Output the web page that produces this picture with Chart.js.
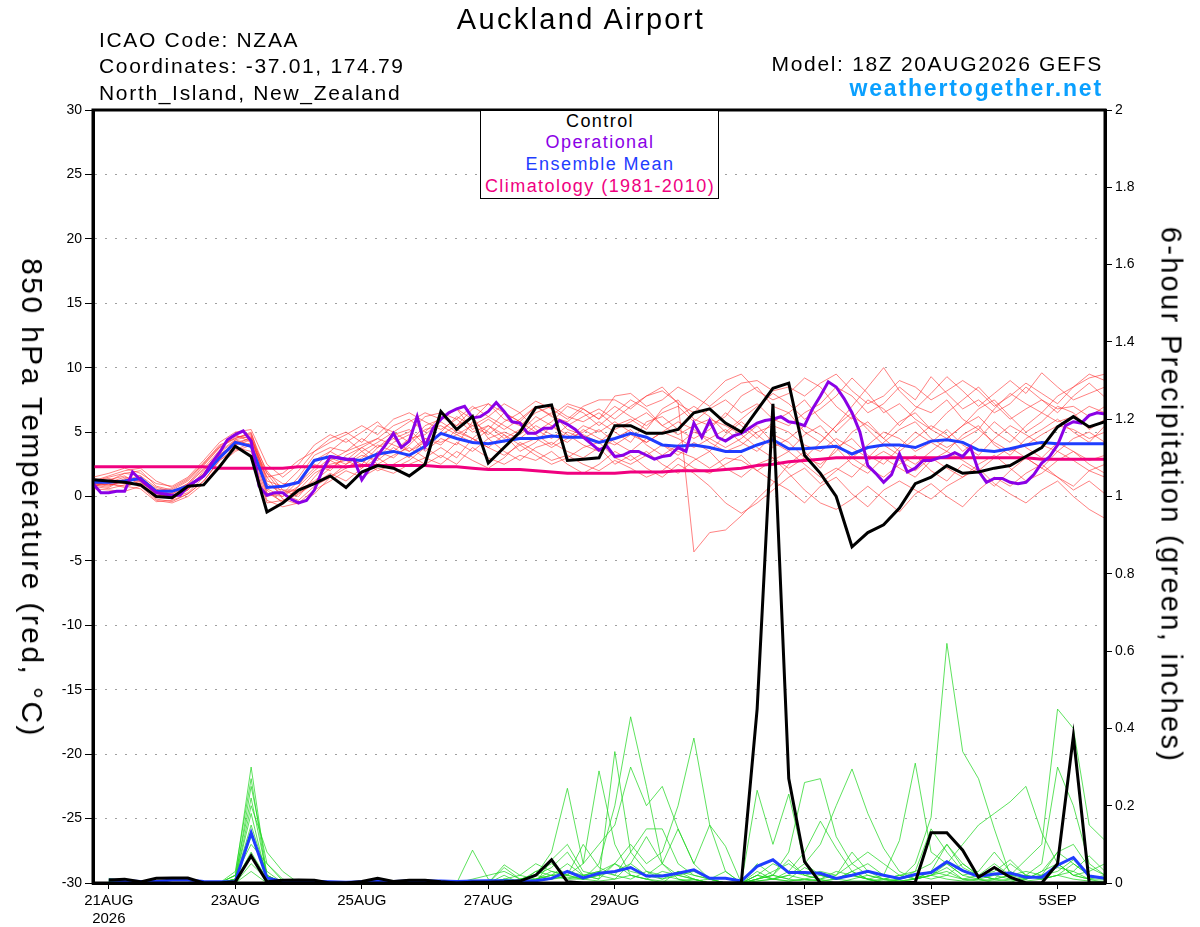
<!DOCTYPE html>
<html>
<head>
<meta charset="utf-8">
<title>Auckland Airport</title>
<script src="https://cdn.jsdelivr.net/npm/chart.js@4.4.1/dist/chart.umd.min.js"></script>
<style>
  html, body { margin: 0; padding: 0; background: #fff; }
  #wrap { position: relative; width: 1200px; height: 927px; font-family: "Liberation Sans", Arial, sans-serif; }
  #wrap canvas { position: absolute; left: 0; top: 0; }
  .txt { position: absolute; white-space: nowrap; line-height: 1; letter-spacing: 0.08em; color: #000; }
  .head { font-size: 21px; }
  #legend { position: absolute; left: 480px; top: 110px; width: 239px; height: 89px; box-sizing: border-box;
            border: 1px solid #000; background: #fff; }
  #legend .txt { font-size: 18px; left: 119px; transform: translateX(-50%); }
  .vtitle { position: absolute; white-space: nowrap; line-height: 1; letter-spacing: 0.08em;
            transform: translate(-50%, -50%) rotate(90deg); }
</style>
</head>
<body>
<div id="wrap">
  <canvas id="chart" width="1200" height="927"></canvas>
  <div class="txt" style="font-size:29px; left:581px; top:5px; transform:translateX(-50%);">Auckland Airport</div>
  <div class="txt head" style="left:99px; top:29px;">ICAO Code: NZAA</div>
  <div class="txt head" style="left:99px; top:55px;">Coordinates: -37.01, 174.79</div>
  <div class="txt head" style="left:99px; top:82px;">North_Island, New_Zealand</div>
  <div class="txt head" style="right:97px; top:53px;">Model: 18Z 20AUG2026 GEFS</div>
  <div class="txt" style="right:97px; top:77px; font-size:23px; font-weight:bold; color:#0aa0ff;">weathertogether.net</div>
  <div id="legend">
    <div class="txt" style="top:1px;">Control</div>
    <div class="txt" style="top:22px; color:#8a00e6;">Operational</div>
    <div class="txt" style="top:44px; color:#1f3dff;">Ensemble Mean</div>
    <div class="txt" style="top:66px; color:#f0007f;">Climatology (1981-2010)</div>
  </div>
  <div class="vtitle" style="left:32px; top:498px; font-size:30px;">850 hPa Temperature (red, °C)</div>
  <div class="vtitle" style="left:1171px; top:495px; font-size:29px;">6-hour Precipitation (green, inches)</div>
</div>
<script>
// time grid: hours after 18Z 20AUG2026, 6-hourly (operational 3-hourly)
const STEP = 6;
const OP_STEP = 3;
const tickHours = [6, 54, 102, 150, 198, 270, 318, 366];
const tickLabels = [['21AUG', '2026'], '23AUG', '25AUG', '27AUG', '29AUG', '1SEP', '3SEP', '5SEP'];

// 850 hPa temperature, deg C
const controlTemp = [
  1.3, 1.2, 1.1, 0.9, 0.0, -0.1, 0.8, 0.9, 2.3, 3.9,
  3.1, -1.2, -0.5, 0.5, 1.0, 1.6, 0.7, 1.9, 2.4, 2.2,
  1.6, 2.5, 6.6, 5.2, 6.2, 2.6, 3.8, 5.0, 6.9, 7.1,
  2.8, 2.9, 3.0, 5.5, 5.5, 4.9, 4.9, 5.2, 6.5, 6.8,
  5.7, 5.0, 6.7, 8.4, 8.8, 3.2, 1.8, 0.0, -3.9, -2.8,
  -2.2, -0.9, 1.0, 1.5, 2.4, 1.8, 1.9, 2.2, 2.4, 3.1,
  3.8, 5.4, 6.2, 5.4, 5.8
];
const operationalTemp = [
  1.0, 0.3, 0.3, 0.4, 0.4, 1.9, 1.3, 0.8, 0.3, 0.2,
  0.1, 0.1, 0.8, 1.2, 1.6, 2.6, 3.4, 4.4, 4.8, 5.1,
  4.3, 0.8, 0.1, 0.3, 0.3, -0.2, -0.5, -0.3, 0.5, 2.0,
  3.1, 3.0, 2.9, 2.9, 1.3, 2.2, 3.2, 4.0, 4.9, 3.8,
  4.3, 6.2, 3.9, 5.3, 6.0, 6.5, 6.8, 7.0, 6.1, 6.2,
  6.6, 7.3, 6.6, 5.8, 5.7, 4.9, 4.9, 5.3, 5.3, 5.9,
  5.6, 5.2, 4.6, 4.1, 3.6, 3.9, 3.1, 3.2, 3.5, 3.5,
  3.2, 2.9, 3.1, 3.2, 3.8, 3.5, 5.7, 4.6, 5.9, 4.6,
  4.3, 4.7, 4.9, 5.3, 5.7, 5.9, 6.0, 6.2, 5.8, 5.7,
  5.5, 6.8, 7.8, 8.9, 8.5, 7.6, 6.5, 5.0, 2.4, 1.8,
  1.1, 1.7, 3.3, 1.9, 2.2, 2.8, 2.8, 3.0, 3.1, 3.4,
  3.1, 3.8, 2.0, 1.1, 1.4, 1.4, 1.1, 1.0, 1.1, 1.7,
  2.6, 3.1, 4.0, 5.5, 5.8, 5.7, 6.3, 6.5, 6.4
];
const meanTemp = [
  1.1, 1.1, 1.2, 1.4, 0.4, 0.4, 0.8, 1.6, 3.0, 4.2,
  3.9, 0.7, 0.8, 1.1, 2.8, 3.1, 2.9, 2.8, 3.3, 3.5,
  3.2, 3.9, 4.9, 4.5, 4.2, 4.1, 4.3, 4.5, 4.5, 4.7,
  4.6, 4.6, 4.2, 4.5, 4.9, 4.6, 4.0, 3.9, 4.0, 3.8,
  3.5, 3.5, 4.0, 4.4, 3.7, 3.7, 3.8, 3.9, 3.3, 3.8,
  4.0, 4.0, 3.8, 4.3, 4.4, 4.2, 3.6, 3.5, 3.7, 4.0,
  4.2, 4.1, 4.1, 4.1, 4.1
];
const climTemp = [
  2.3, 2.3, 2.3, 2.3, 2.3, 2.3, 2.3, 2.3, 2.2, 2.2,
  2.2, 2.2, 2.2, 2.3, 2.3, 2.3, 2.3, 2.4, 2.4, 2.4,
  2.4, 2.4, 2.3, 2.3, 2.2, 2.1, 2.1, 2.1, 2.0, 1.9,
  1.8, 1.8, 1.8, 1.8, 1.9, 1.9, 1.9, 2.0, 2.0, 2.0,
  2.1, 2.2, 2.4, 2.5, 2.7, 2.8, 2.9, 3.0, 3.0, 3.0,
  3.0, 3.0, 3.0, 3.0, 3.0, 3.0, 3.0, 3.0, 3.0, 3.0,
  2.9, 2.9, 2.9, 2.9, 2.9
];

// ensemble members, 850 hPa temperature
const memberTemp = [
  [1.2,1.5,1.8,2.0,0.8,0.5,1.2,2.5,3.8,4.6,4.8, 1.0,0.2,1.5,3.2,3.8,3.5,4.0,4.5,5.5,6.0,5.0,
   6.2,5.5,6.8,7.2,6.0,5.5,6.5,7.0,6.2,5.8,6.5, 5.5,6.0,5.2,6.8,7.5,6.0,5.5,6.2,7.8,8.5,7.0,
   6.5,5.0,4.2,5.5,7.0,8.5,10.0,8.2,7.0,6.5,7.5, 6.0,5.2,6.8,8.0,7.2,6.5,7.8,8.5,9.2,9.5],
  [0.8,0.6,0.9,1.0,-0.2,-0.4,0.2,1.2,2.8,3.8,3.5, -0.3,-0.8,-0.5,0.5,1.2,2.0,1.5,2.2,1.8,2.5,3.0,
   2.5,3.5,2.8,2.2,3.0,4.2,3.5,2.8,3.2,2.5,2.0, 2.8,2.2,1.5,2.0,3.0,2.2,1.8,2.5,3.2,2.0,1.2,
   0.5,-0.5,0.8,1.5,0.2,-0.8,0.5,1.2,0.5,-0.2,0.8, 1.5,2.2,1.0,0.2,-0.5,0.5,1.2,0.0,-1.0,-1.7],
  [1.0,1.2,1.0,1.5,0.5,0.2,0.8,1.8,3.2,4.2,4.5, 2.0,0.5,0.0,1.5,2.8,3.5,4.5,3.8,4.8,5.2,4.0,
   5.0,6.2,5.5,4.8,5.8,6.5,5.2,4.5,5.5,6.2,6.8, 6.0,7.0,7.8,8.2,7.3,-4.3,-2.8,-2.6,-1.5,-0.2,1.0,
   2.5,3.5,2.2,3.8,4.5,3.2,2.5,3.8,5.0,4.2,3.5, 4.8,5.5,4.0,3.2,4.5,5.2,6.0,5.0,4.2,5.5],
  [1.5,1.8,2.2,1.8,1.0,0.8,1.5,2.8,4.2,5.0,5.2, 2.5,1.5,2.5,4.0,4.8,4.2,5.0,5.8,4.5,5.0,6.2,
   6.5,6.0,7.0,6.2,7.2,6.5,7.4,6.8,6.0,7.0,7.5, 7.5,6.8,7.8,8.5,7.2,6.5,7.8,9.0,9.5,8.2,7.5,
   8.0,9.2,8.5,7.0,6.0,7.5,6.8,5.5,6.8,8.0,9.3, 8.2,7.0,8.0,9.0,8.0,9.6,8.5,7.5,8.0,8.5],
  [1.0,0.8,1.3,1.6,0.3,-0.2,0.5,2.0,3.5,4.4,4.0, 0.5,-0.5,0.8,2.0,3.0,2.5,3.2,2.8,3.8,3.0,4.5,
   4.0,5.2,4.5,3.8,4.8,3.5,4.2,5.5,4.8,4.0,3.5, 4.5,5.2,4.0,3.2,4.0,5.0,4.5,3.8,4.5,5.5,4.2,
   3.5,4.8,5.5,4.2,3.0,4.0,5.0,4.5,3.5,4.2,5.2, 4.0,3.2,4.5,5.5,4.8,4.0,3.5,4.5,5.0,4.2],
  [0.6,0.5,0.4,0.8,-0.3,-0.5,0.0,1.0,2.5,3.5,4.0, 1.5,-0.2,-0.6,0.2,1.5,2.2,2.8,2.0,2.5,3.2,2.5,
   3.2,2.5,3.8,3.0,2.5,3.2,2.8,3.5,2.5,1.8,2.5, 3.5,2.8,3.5,2.5,1.8,2.8,3.5,2.2,1.5,2.5,3.0,
   1.8,0.5,-0.5,-1.0,-0.2,0.8,-0.2,-1.2,0.2,1.0,0.0, -0.8,0.5,1.5,0.8,1.8,2.5,1.5,0.8,2.0,1.5],
  [1.3,1.0,0.7,1.2,0.0,0.3,1.0,2.2,3.6,4.8,4.2, 0.2,0.0,1.2,2.5,2.0,3.2,3.8,3.0,4.2,4.8,3.5,
   4.5,4.0,5.8,5.0,4.2,5.0,6.2,5.5,4.5,5.0,5.8, 5.0,4.2,5.8,6.2,5.2,4.5,5.2,6.5,5.5,4.5,5.8,
   6.5,7.5,6.0,5.0,6.2,5.5,4.5,5.8,6.5,5.2,4.5, 5.5,6.8,7.5,6.2,5.0,5.8,7.0,6.5,5.2,6.0],
  [0.9,1.1,1.5,1.2,0.2,0.0,0.7,1.5,3.0,4.0,4.6, 0.8,0.5,0.5,1.8,2.5,2.8,2.2,3.5,3.0,4.0,5.2,
   5.5,4.8,4.2,5.2,6.5,5.8,5.0,5.8,7.0,6.5,5.5, 6.5,7.5,6.8,5.5,6.2,7.0,6.2,5.0,6.0,7.0,8.0,
   7.2,6.0,6.8,7.8,9.2,8.0,6.5,7.2,6.0,5.2,6.5, 7.5,8.5,7.2,6.0,6.8,7.5,6.5,7.8,8.8,7.7],
  [1.1,0.9,1.1,1.4,0.6,-0.1,0.3,1.5,3.2,3.8,3.2, -0.5,-0.3,0.3,1.0,1.8,1.2,2.2,3.0,2.2,2.8,3.8,
   3.0,4.2,3.5,4.5,3.5,2.8,3.8,4.2,3.5,3.0,3.8, 2.5,3.2,2.2,1.5,2.5,1.8,0.8,-0.5,-1.3,-0.5,0.5,
   1.5,2.2,1.0,2.0,3.0,2.2,1.5,2.5,3.2,2.0,1.2, 2.5,1.8,0.8,2.0,3.0,2.2,1.5,0.5,1.2,0.2],
  [1.2,1.4,1.0,1.0,0.5,0.6,1.3,2.6,4.0,4.5,4.9, 1.8,1.0,1.0,2.2,3.5,4.5,3.5,4.2,5.0,4.2,5.5,
   6.0,6.8,5.2,6.0,5.2,6.0,7.0,6.2,5.8,6.8,6.0, 7.0,6.2,5.5,6.5,7.0,5.8,6.8,7.5,6.5,7.2,6.0,
   5.5,6.5,7.2,8.5,7.8,6.5,7.2,8.5,7.5,9.3,8.0, 6.8,7.5,6.5,7.2,8.5,7.5,6.8,7.0,6.2,7.0],
  [0.7,1.3,1.6,0.9,-0.1,0.1,0.5,1.8,3.4,4.3,3.8, 0.0,0.3,0.5,1.2,2.2,3.0,2.5,3.8,4.5,3.5,4.2,
   4.8,5.5,6.2,4.5,5.0,4.5,5.5,4.8,4.2,5.2,4.5, 4.0,4.8,4.2,5.0,4.5,3.8,4.5,5.2,4.2,3.5,4.8,
   4.2,3.0,2.5,3.5,5.0,5.8,4.5,3.5,4.5,5.5,4.8, 3.5,4.5,5.8,4.8,3.8,3.0,4.2,3.5,2.8,3.2],
  [1.4,1.2,1.8,1.6,0.7,0.4,1.0,2.4,3.8,4.5,5.0, 1.2,0.8,2.0,3.5,4.2,4.8,5.5,4.8,6.0,6.5,5.8,
   5.2,6.0,5.0,5.5,4.5,5.2,4.8,4.0,5.0,4.5,5.2, 4.2,3.5,4.5,4.0,3.2,4.2,3.5,4.8,5.8,4.8,3.8,
   4.5,5.5,4.8,3.8,2.5,1.8,3.0,2.2,1.5,2.8,3.5, 2.8,2.0,3.0,3.8,3.0,2.2,3.5,2.8,2.0,2.5],
  [1.0,0.9,1.2,1.3,0.1,0.2,0.9,2.1,3.3,4.0,4.4, 0.3,-0.4,0.2,1.0,2.8,2.2,3.0,4.0,3.5,4.5,4.8,
   5.8,5.0,4.5,5.5,4.8,4.0,4.5,3.8,4.5,5.5,5.0, 5.8,5.0,4.2,5.0,5.8,5.2,4.2,3.5,4.0,5.0,5.5,
   5.0,4.0,3.5,4.5,3.8,3.0,4.2,5.2,5.8,4.5,3.8, 4.5,5.2,4.2,3.5,4.0,4.8,5.5,5.2,4.5,5.0],
  [0.8,1.0,0.8,0.6,-0.4,-0.3,0.2,1.2,2.8,3.6,4.2, 1.8,0.2,-0.3,0.8,1.5,2.5,3.5,2.5,3.2,3.8,3.0,
   3.8,3.0,4.5,3.8,3.2,4.0,3.2,2.5,3.0,3.8,4.2, 3.0,2.5,3.2,4.0,3.5,3.0,2.2,3.0,2.8,2.0,2.8,
   3.5,2.5,1.5,2.2,1.5,2.8,3.5,2.8,2.0,3.0,2.2, 1.5,2.5,3.2,2.2,1.2,1.8,2.8,3.5,2.5,1.8],
  [1.2,1.6,2.0,2.2,1.2,0.7,1.4,2.6,3.9,4.7,4.5, 1.5,1.8,2.8,3.5,4.5,5.0,4.2,5.5,5.0,5.8,6.5,
   6.0,6.8,6.0,7.2,6.5,5.8,7.0,6.3,7.2,6.8,6.0, 7.8,8.0,7.0,7.5,8.5,7.8,7.0,8.0,8.8,9.0,8.2,
   8.5,7.8,8.8,9.5,8.2,7.2,7.8,9.0,8.5,7.5,8.2, 9.0,8.2,7.0,7.8,8.8,8.0,7.2,8.5,9.5,9.0],
  [0.9,0.7,1.4,1.1,0.4,-0.2,0.6,1.6,3.0,4.4,4.7, 0.6,0.0,0.8,2.8,3.5,2.8,3.8,4.5,4.0,3.5,4.5,
   4.2,4.8,5.5,6.2,5.5,4.8,5.8,6.5,5.2,4.8,4.2, 5.2,5.8,6.5,5.5,4.8,5.5,6.0,5.5,4.8,3.8,3.0,
   2.2,3.0,4.2,5.5,6.5,5.2,4.0,3.2,2.5,3.5,4.5, 5.5,6.2,5.0,4.2,5.5,6.5,5.8,6.2,7.0,6.5]
];

// 6-hour precipitation, inches (no value at the analysis time)
const controlPrecip = [
  null, 0.008, 0.01, 0.003, 0.012, 0.013, 0.013, 0, 0, 0.003,
  0.07, 0.003, 0.007, 0.008, 0.007, 0, 0, 0.004, 0.012, 0.004,
  0.007, 0.007, 0.003, 0, 0.002, 0.002, 0.003, 0.005, 0.02, 0.06,
  0.003, 0, 0, 0, 0, 0, 0, 0, 0, 0,
  0, 0, 0.45, 1.24, 0.27, 0.055, 0, 0, 0, 0,
  0, 0, 0.002, 0.13, 0.13, 0.085, 0.015, 0.04, 0.015, 0,
  0, 0.05, 0.38, 0, 0
];
const meanPrecip = [
  null, 0.008, 0.006, 0.004, 0.004, 0.008, 0.008, 0.004, 0.003, 0.004,
  0.13, 0.013, 0.004, 0.004, 0.004, 0.003, 0.002, 0.003, 0.004, 0.004,
  0.005, 0.005, 0.005, 0.004, 0.005, 0.006, 0.006, 0.005, 0.006, 0.012,
  0.03, 0.013, 0.025, 0.03, 0.04, 0.018, 0.018, 0.025, 0.034, 0.012,
  0.012, 0.005, 0.043, 0.06, 0.027, 0.027, 0.025, 0.012, 0.02, 0.03,
  0.02, 0.012, 0.022, 0.027, 0.055, 0.032, 0.017, 0.023, 0.026, 0.015,
  0.015, 0.046, 0.066, 0.018, 0.012
];
const memberPrecip = [
  [null, 0.01,0.005,0,0,0,0,0,0,0.02,0.30, 0.02,0,0,0,0,0,0,0,0,0,
   0.005,0.005,0,0,0,0.01,0,0.03,0.05,0.02, 0.01,0.05,0.2,0.43,0.25,0.05,0.02,0.01,0,0,
   0,0.02,0.01,0.005,0.01,0.02,0.01,0.03,0.01,0, 0.01,0.05,0.17,0.62,0.34,0.27,0.14,0.02,0.02,0.01,
   0.05,0.02,0.01,0],
  [null, 0.008,0.01,0,0.005,0,0,0,0,0.01,0.25, 0.05,0.005,0,0,0,0,0,0,0,0,
   0,0,0,0,0,0.04,0.01,0.02,0.08,0.245, 0.05,0.29,0.1,0.02,0.01,0,0.03,0.01,0,0,
   0,0.01,0.02,0.01,0.005,0.01,0,0.01,0.02,0.01, 0.005,0.01,0.02,0.04,0.01,0.005,0.01,0.02,0.06,0.1,
   0.45,0.40,0.15,0.11],
  [null, 0.005,0.005,0,0,0,0,0,0,0.01,0.20, 0.08,0.03,0,0,0,0,0,0,0,0,
   0,0,0,0,0,0.01,0.02,0.05,0.03,0.02, 0.05,0.1,0.15,0.30,0.2,0.25,0.14,0.05,0.01,0,
   0,0.05,0.02,0.08,0.26,0.27,0.12,0.05,0.02,0.01, 0.02,0.03,0.05,0.1,0.05,0.02,0.01,0.05,0.02,0.01,
   0.02,0.05,0.02,0.01],
  [null, 0.012,0.005,0,0,0,0,0,0,0.01,0.18, 0.01,0,0,0,0,0,0,0,0,0,
   0,0,0,0,0,0,0,0.01,0.02,0.01, 0.02,0.03,0.05,0.1,0.05,0.08,0.2,0.375,0.15,0.095,
   0,0.03,0.01,0.02,0.05,0.1,0.2,0.295,0.18,0.09, 0.03,0.01,0.02,0.05,0.1,0.15,0.18,0.21,0.25,0.13,
   0.05,0.02,0.03,0.05],
  [null, 0,0,0,0,0,0,0,0,0.01,0.15, 0.02,0,0,0,0,0,0,0,0,0,
   0,0,0,0.085,0.01,0,0,0,0.06,0.1, 0.03,0.02,0.01,0.05,0.12,0.05,0.01,0,0,0,
   0,0.24,0.1,0.23,0.05,0.02,0.01,0.03,0.05,0.02, 0.11,0.31,0.08,0.05,0.02,0.01,0,0,0.02,0.05,
   0.30,0.2,0.05,0.02],
  [null, 0.005,0,0,0,0,0,0,0,0.01,0.12, 0.03,0,0,0,0,0,0,0.005,0.005,0,
   0,0,0,0.01,0.02,0.03,0.01,0.02,0.04,0.08, 0.02,0.01,0.34,0.08,0.14,0.14,0.05,0.02,0.01,0,
   0,0.02,0.05,0.03,0.08,0.16,0.09,0.03,0.01,0.02, 0.01,0.03,0.14,0.08,0.03,0.02,0.05,0.02,0.01,0.03,
   0.08,0.1,0.04,0.02],
  [null, 0.003,0,0,0,0,0,0,0,0.02,0.10, 0.05,0.01,0,0,0,0,0,0,0,0,
   0,0,0,0,0,0.047,0.02,0.01,0.03,0.02, 0.01,0.02,0.05,0.03,0.02,0.05,0.14,0.05,0.15,0.03,
   0,0.01,0.03,0.05,0.02,0.03,0.02,0.05,0.08,0.05, 0.02,0.01,0.03,0.05,0.02,0.03,0.08,0.03,0.01,0.02,
   0.04,0.03,0.07,0.03],
  [null, 0,0,0,0,0,0,0,0,0.005,0.08, 0.01,0,0,0,0,0,0,0,0,0,
   0,0,0,0,0,0.01,0.005,0.01,0.02,0.05, 0.02,0.03,0.02,0.08,0.03,0.01,0.02,0.03,0.01,0,
   0,0.01,0.02,0.06,0.02,0.01,0.03,0.02,0.01,0.005, 0.01,0.02,0.03,0.02,0.05,0.02,0.01,0.02,0.03,0.02,
   0.08,0.05,0.02,0.01],
  [null, 0.004,0,0,0,0,0,0,0,0,0.05, 0.01,0,0,0,0,0,0,0,0,0,
   0,0,0,0,0,0,0.01,0.02,0.01,0.02, 0.1,0.04,0.02,0.01,0.03,0.02,0.01,0.005,0.01,0.03,
   0,0.005,0.01,0.02,0.01,0.005,0.01,0.02,0.01,0, 0.005,0.01,0.03,0.1,0.04,0.02,0.01,0.005,0.01,0.02,
   0.03,0.06,0.02,0.01],
  [null, 0.002,0,0,0,0,0,0,0,0,0.03, 0,0,0,0,0,0,0,0,0,0,
   0,0,0,0,0,0.005,0,0.005,0.01,0.015, 0.01,0.005,0.01,0.02,0.01,0.005,0.005,0.01,0,0,
   0,0.005,0.01,0.005,0.01,0.005,0.01,0.005,0.005,0.01, 0.005,0.01,0.02,0.01,0.005,0.01,0.005,0.01,0.005,0.01,
   0.02,0.01,0.005,0.005],
  [null, 0.006,0,0,0,0,0,0,0,0.02,0.22, 0.02,0,0,0,0,0,0,0,0,0,
   0,0,0,0,0,0.02,0,0.01,0.02,0.03, 0.02,0.01,0.05,0.02,0.01,0.03,0.02,0.01,0,0,
   0,0.02,0.01,0.03,0.02,0.01,0.02,0.08,0.03,0.01, 0.02,0.01,0.02,0.03,0.01,0.02,0.03,0.06,0.02,0.01,
   0.02,0.03,0.01,0.02],
  [null, 0.008,0,0,0,0,0,0,0,0.03,0.27, 0.01,0,0,0,0,0,0,0,0,0,
   0,0,0,0,0,0,0.005,0.03,0.02,0.01, 0.01,0.02,0.03,0.05,0.02,0.01,0.03,0.02,0.01,0,
   0,0.01,0.02,0.01,0.04,0.02,0.01,0.02,0.01,0, 0.01,0.02,0.01,0.02,0.01,0.01,0.02,0.01,0.01,0.03,
   0.05,0.02,0.01,0.01]
];

function toPoints(values, step) {
  return values.map((v, i) => ({ x: i * step, y: v }));
}

function line(data, axis, color, width) {
  return { data: data, yAxisID: axis, borderColor: color, borderWidth: width, pointRadius: 0, fill: false, tension: 0 };
}

// first dataset ends up on top
const datasets = [
  line(toPoints(controlTemp, STEP), 'yT', '#000000', 3),
  line(toPoints(controlPrecip, STEP), 'yP', '#000000', 3),
  line(toPoints(operationalTemp, OP_STEP), 'yT', '#8a00e6', 3),
  line(toPoints(meanTemp, STEP), 'yT', '#1f3dff', 3),
  line(toPoints(meanPrecip, STEP), 'yP', '#1f3dff', 3),
  line(toPoints(climTemp, STEP), 'yT', '#f0007f', 3)
];
memberTemp.forEach(m => datasets.push(line(toPoints(m, STEP), 'yT', 'rgba(255,45,45,0.75)', 0.8)));
memberPrecip.forEach(m => datasets.push(line(toPoints(m, STEP), 'yP', 'rgba(30,215,30,0.9)', 0.8)));

const framePlugin = {
  id: 'frame',
  afterDatasetsDraw(chart) {
    const { ctx, chartArea: a } = chart;
    ctx.save();
    ctx.strokeStyle = '#000';
    ctx.lineWidth = 3;
    ctx.strokeRect(a.left, a.top, a.right - a.left, a.bottom - a.top);
    ctx.restore();
  }
};

const tickFont = { family: '"Liberation Sans", Arial, sans-serif', size: 14 };

new Chart(document.getElementById('chart'), {
  type: 'line',
  data: { datasets: datasets },
  plugins: [framePlugin],
  options: {
    responsive: false,
    animation: false,
    events: [],
    layout: { padding: { top: 110, left: 0, right: 0, bottom: 0 } },
    plugins: { legend: { display: false }, tooltip: { enabled: false } },
    scales: {
      x: {
        type: 'linear',
        min: 0,
        max: 384,
        afterBuildTicks(scale) { scale.ticks = tickHours.map(v => ({ value: v })); },
        afterFit(scale) { scale.height = 44; },
        ticks: {
          autoSkip: false,
          maxRotation: 0,
          padding: 3,
          color: '#000',
          font: { family: '"Liberation Sans", Arial, sans-serif', size: 15 },
          callback: (v) => tickLabels[tickHours.indexOf(v)]
        },
        grid: { drawOnChartArea: false, tickLength: 6, tickColor: '#000' },
        border: { display: true, color: '#000', width: 3 }
      },
      yT: {
        type: 'linear',
        position: 'left',
        min: -30,
        max: 30,
        afterFit(scale) { scale.width = 93; },
        ticks: { stepSize: 5, padding: 3, color: '#000', font: tickFont },
        grid: { color: '#a0a0a0', lineWidth: 1, tickLength: 8, tickColor: '#000' },
        border: { display: true, color: '#000', width: 3, dash: [2, 8] }
      },
      yP: {
        type: 'linear',
        position: 'right',
        min: 0,
        max: 2,
        afterFit(scale) { scale.width = 95; },
        ticks: { stepSize: 0.2, padding: 3, color: '#000', font: tickFont,
                 callback: (v) => String(+v.toFixed(1)) },
        grid: { drawOnChartArea: false, tickLength: 7, tickColor: '#000' },
        border: { display: true, color: '#000', width: 3 }
      }
    }
  }
});
</script>
</body>
</html>
